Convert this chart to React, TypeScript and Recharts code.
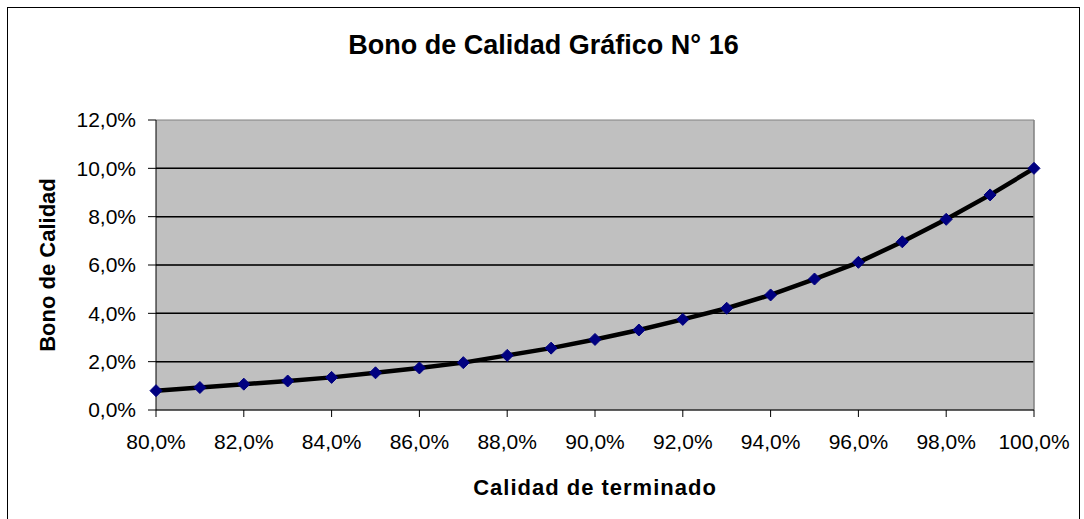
import React from "react";
import {
  LineChart,
  Line,
  XAxis,
  YAxis,
  CartesianGrid,
  ReferenceLine,
} from "recharts";

const calidad = [80, 81, 82, 83, 84, 85, 86, 87, 88, 89, 90, 91, 92, 93, 94, 95, 96, 97, 98, 99, 100];
const bono = [0.8, 0.93, 1.07, 1.2, 1.35, 1.54, 1.74, 1.96, 2.26, 2.56, 2.92, 3.31, 3.75, 4.21, 4.76, 5.42, 6.11, 6.96, 7.89, 8.9, 10.0];
const xTicks = [80, 82, 84, 86, 88, 90, 92, 94, 96, 98, 100];
const yTicks = [0, 2, 4, 6, 8, 10, 12];
const gridLines = [2, 4, 6, 8, 10];

const data = calidad.map((c, i) => ({ calidad: c, bono: bono[i] }));

const FONT = "Arial, 'Liberation Sans', sans-serif";
const pct = (v: number) => v.toFixed(1).replace(".", ",") + "%";

function Diamond(props: any) {
  const { cx, cy } = props;
  if (cx == null || cy == null) return null;
  const r = 6;
  return (
    <polygon
      points={`${cx},${cy - r} ${cx + r},${cy} ${cx},${cy + r} ${cx - r},${cy}`}
      fill="#000080"
      stroke="#000080"
    />
  );
}

export default function App() {
  return (
    <div
      style={{
        position: "absolute",
        left: 7,
        top: 7,
        width: 1071,
        height: 530,
        border: "1px solid #000",
        background: "#fff",
        fontFamily: FONT,
      }}
    >
      <div
        style={{
          position: "absolute",
          left: 0,
          right: 0,
          top: 22,
          textAlign: "center",
          fontSize: 27,
          fontWeight: "bold",
        }}
      >
        Bono de Calidad Gráfico N° 16
      </div>
      <LineChart
        width={1070}
        height={510}
        data={data}
        margin={{ top: 112, right: 44, bottom: 48, left: 68 }}
        style={{ fontFamily: FONT }}
      >
        <CartesianGrid
          vertical={false}
          stroke="#808080"
          fill="#c0c0c0"
          fillOpacity={1}
        />
        {gridLines.map((g) => (
          <ReferenceLine key={g} y={g} stroke="#000" strokeWidth={1.5} />
        ))}
        <ReferenceLine x={100} stroke="#808080" strokeWidth={1.5} />
        <XAxis
          dataKey="calidad"
          type="number"
          domain={[80, 100]}
          ticks={xTicks}
          tickFormatter={pct}
          stroke="#000"
          tickSize={7}
          tickMargin={17}
          height={60}
          tick={{ fill: "#000", fontSize: 21 }}
          label={{
            value: "Calidad de terminado",
            position: "insideBottom",
            offset: -25,
            style: { fontSize: 22, fontWeight: "bold", fill: "#000", letterSpacing: 1 },
          }}
        />
        <YAxis
          domain={[0, 12]}
          ticks={yTicks}
          tickFormatter={pct}
          stroke="#000"
          tickSize={8}
          tickMargin={12}
          width={80}
          tick={{ fill: "#000", fontSize: 21 }}
          label={{
            value: "Bono de Calidad",
            angle: -90,
            position: "insideLeft",
            offset: -29,
            style: { fontSize: 22, fontWeight: "bold", fill: "#000", textAnchor: "middle" },
          }}
        />
        <Line
          type="linear"
          dataKey="bono"
          stroke="#000"
          strokeWidth={4.5}
          dot={<Diamond />}
          activeDot={false}
          isAnimationActive={false}
        />
      </LineChart>
    </div>
  );
}
